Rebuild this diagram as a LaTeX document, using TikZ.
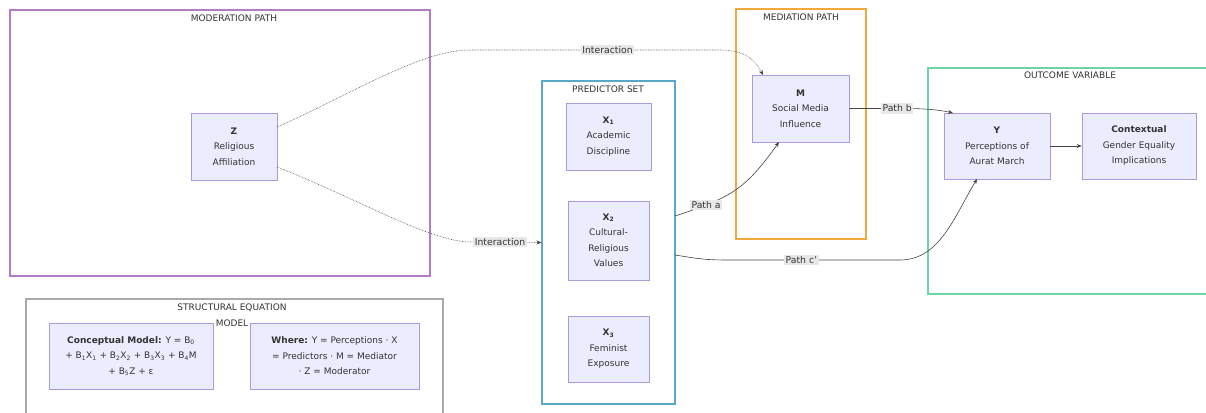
\documentclass[tikz,border=0pt]{standalone}
\usepackage{fontspec}
\setmainfont{DejaVu Sans}
\usetikzlibrary{arrows.meta}
\definecolor{nfill}{HTML}{ECECFF}
\definecolor{nline}{HTML}{A99BDB}
\definecolor{cpurple}{HTML}{B07CC6}
\definecolor{cblue}{HTML}{5AA8C8}
\definecolor{corange}{HTML}{F0A93A}
\definecolor{cgreen}{HTML}{6AD6A4}
\definecolor{cgray}{HTML}{AAAAAA}
\definecolor{txt}{HTML}{333333}
\definecolor{edg}{HTML}{444444}
\definecolor{lblbg}{HTML}{E8E8E8}
\newcommand{\sbs}[1]{\textsubscript{#1}}
\begin{document}
\begin{tikzpicture}[x=1pt,y=-1pt,
  nd/.style={draw=nline, fill=nfill, line width=0.6pt, align=center, inner sep=0pt,
    text=txt, font=\fontsize{9}{15.5}\selectfont},
  cl/.style={line width=1.1pt, fill=white, inner sep=0pt},
  cltitle/.style={text=txt, font=\fontsize{9}{16}\selectfont, align=center, inner sep=0pt},
  lab/.style={fill=lblbg, text=txt, font=\fontsize{9.3}{10}\selectfont, inner sep=1.5pt},
  arr/.style={draw=edg, line width=0.6pt, -{Stealth[length=5pt,width=4pt]}},
  dot/.style={arr, densely dotted},
]
\useasboundingbox (0,0) rectangle (1206,412);
\fill[white] (0,0) rectangle (1206,412);

% clusters
\node[cl, draw=cpurple, minimum width=420, minimum height=266] (modp) at (220,143) {};
\node[cltitle] (modt) at (234,18) {MODERATION PATH};
\node[cl, draw=cgray, minimum width=417, minimum height=130] (sem) at (234.5,364) {};
\node[cltitle] (semt) at (232,315) {STRUCTURAL EQUATION\\MODEL};
\node[cl, draw=cblue, minimum width=133, minimum height=323] (predset) at (608.5,242.5) {};
\node[cltitle] (predt) at (608,89) {PREDICTOR SET};
\node[cl, draw=corange, minimum width=130, minimum height=230] (medp) at (801,124) {};
\node[cltitle] (medt) at (801,17) {MEDIATION PATH};
\node[cl, draw=cgreen, minimum width=290, minimum height=226] (outv) at (1073,181) {};
\node[cltitle] (outt) at (1070,75) {OUTCOME VARIABLE};

% nodes
\node[nd, minimum width=86, minimum height=67] (Z) at (234,146.5) {\textbf{Z}\\Religious\\Affiliation};
\node[nd, minimum width=85, minimum height=67] (X1) at (608.5,136.5) {\textbf{X\sbs{1}}\\Academic\\Discipline};
\node[nd, minimum width=81, minimum height=79] (X2) at (608.5,240.5) {\textbf{X\sbs{2}}\\Cultural-\\Religious\\Values};
\node[nd, minimum width=81, minimum height=66] (X3) at (608.5,349) {\textbf{X\sbs{3}}\\Feminist\\Exposure};
\node[nd, minimum width=97, minimum height=67] (M) at (800.5,108.5) {\textbf{M}\\Social Media\\Influence};
\node[nd, minimum width=106, minimum height=66] (Y) at (997,146) {\textbf{Y}\\Perceptions of\\Aurat March};
\node[nd, minimum width=114, minimum height=66] (C) at (1139,146) {\textbf{Contextual}\\Gender Equality\\Implications};
\node[nd, minimum width=164, minimum height=66] (CM) at (131,356) {\textbf{Conceptual Model:} Y = B\sbs{0}\\+ B\sbs{1}X\sbs{1} + B\sbs{2}X\sbs{2} + B\sbs{3}X\sbs{3} + B\sbs{4}M\\+ B\sbs{5}Z + ε};
\node[nd, minimum width=169, minimum height=66] (W) at (334.5,356) {\textbf{Where:} Y = Perceptions · X\\= Predictors · M = Mediator\\· Z = Moderator};

% border / end coordinates
\coordinate (zs1) at (277,127);
\coordinate (zs2) at (277,167);
\coordinate (mtop) at (763,75);
\coordinate (mbot) at (779,142);
\coordinate (ytl) at (953,113);
\coordinate (ybot) at (977,179);
\coordinate (pa) at (675,216);
\coordinate (pc) at (675,255);

% edges
\draw[dot] (zs1) .. controls (350,95) and (420,50) .. (470,50) -- (720,50)
  node[lab, pos=0.55] {Interaction}
  .. controls (745,50) and (755,60) .. (mtop);
\draw[dot] (zs2) .. controls (350,195) and (430,242) .. (470,242) -- (predset.west)
  node[lab, pos=0.42] {Interaction};
\draw[arr] (pa) .. controls (730,198) and (745,190) .. (mbot)
  node[lab, pos=0.22] {Path a};
\draw[arr] (M.east) -- (905,108.5) node[lab, pos=0.86] {Path b}
  .. controls (925,108.5) and (940,110) .. (ytl);
\draw[arr] (pc) .. controls (700,259) and (705,260) .. (730,260) -- (900,260)
  node[lab, pos=0.42] {Path c'}
  .. controls (940,260) and (955,215) .. (ybot);
\draw[arr] (Y) -- (C);
\end{tikzpicture}
\end{document}
